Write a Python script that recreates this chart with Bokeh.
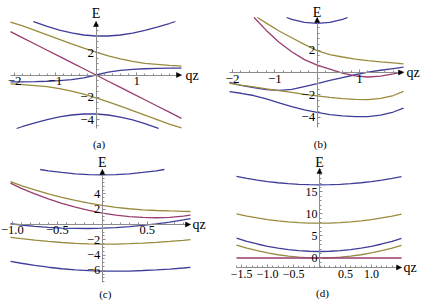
from bokeh.plotting import figure
from bokeh.layouts import gridplot
from bokeh.models import Range1d, FixedTicker, Label, Arrow, NormalHead
from bokeh.embed import file_html
from bokeh.resources import INLINE

# ---------------- data ----------------
# panel (a)  -- each curve: qz values and E values (curves end where they leave the plot)
qz_a = [-2.1, -1.8, -1.5, -1.2, -0.9, -0.6, -0.3, 0.0, 0.3, 0.6, 0.9, 1.2, 1.5, 1.8, 2.1]
olive_top_a = [4.75, 4.40, 4.00, 3.60, 3.20, 2.80, 2.42, 2.05, 1.72, 1.45, 1.22, 1.05, 0.96, 0.87, 0.80]
blue_mid_a = [-0.62, -0.61, -0.59, -0.56, -0.51, -0.42, -0.25, 0.0, 0.25, 0.42, 0.51, 0.56, 0.59, 0.61, 0.62]
magenta_a = [3.89, 3.33, 2.78, 2.22, 1.67, 1.11, 0.56, 0.0, -0.56, -1.11, -1.67, -2.22, -2.78, -3.33, -3.89]
olive_bot_a = [-0.80, -0.87, -0.96, -1.05, -1.22, -1.45, -1.72, -2.05, -2.42, -2.80, -3.20, -3.60, -4.00, -4.40, -4.75]
qz_top_a = [-1.54, -1.5, -1.2, -0.9, -0.6, -0.3, 0.0, 0.3, 0.6, 0.9, 1.2, 1.5, 1.8, 1.95]
blue_top_a = [4.8, 4.74, 4.36, 4.03, 3.77, 3.59, 3.50, 3.50, 3.59, 3.76, 4.00, 4.29, 4.62, 4.8]
qz_bot_a = [-1.95, -1.8, -1.5, -1.2, -0.9, -0.6, -0.3, 0.0, 0.3, 0.6, 0.9, 1.2, 1.5, 1.54]
blue_bot_a = [-4.8, -4.62, -4.29, -4.00, -3.76, -3.59, -3.50, -3.50, -3.59, -3.77, -4.03, -4.36, -4.74, -4.8]

# panel (b)
qz_b = [-2.07, -1.8, -1.5, -1.2, -0.9, -0.6, -0.3, 0.0, 0.3, 0.6, 0.9, 1.2, 1.5, 1.8, 2.04]
blue_mid_b = [-0.88, -1.15, -1.35, -1.52, -1.6, -1.5, -1.25, -1.0, -0.7, -0.45, -0.2, 0.03, 0.2, 0.35, 0.47]
olive_bot_b = [-0.97, -1.12, -1.28, -1.45, -1.62, -1.78, -1.94, -2.09, -2.22, -2.33, -2.4, -2.42, -2.3, -2.05, -1.68]
blue_bot_b = [-1.70, -1.85, -2.05, -2.35, -2.7, -3.05, -3.33, -3.56, -3.75, -3.87, -3.94, -3.94, -3.8, -3.52, -3.18]
qz_top_b = [-0.72, -0.6, -0.3, 0.0, 0.3, 0.6, 0.72]
blue_top_b = [4.9, 4.73, 4.47, 4.38, 4.47, 4.73, 4.9]
qz_olive_b = [-1.41, -1.2, -0.9, -0.6, -0.3, 0.0, 0.3, 0.6, 0.9, 1.2, 1.5, 1.8, 2.04]
olive_top_b = [4.9, 4.4, 3.7, 3.1, 2.5, 1.95, 1.6, 1.38, 1.2, 1.06, 0.95, 0.85, 0.77]
qz_mag_b = [-1.49, -1.2, -0.9, -0.6, -0.3, 0.0, 0.3, 0.6, 0.9, 1.2, 1.5, 1.8, 2.04]
magenta_b = [4.9, 3.75, 2.7, 1.85, 1.15, 0.65, 0.3, -0.05, -0.3, -0.4, -0.32, -0.12, 0.06]

# panel (c)
qz_c = [-1.02, -0.9, -0.75, -0.6, -0.45, -0.3, -0.15, 0.0, 0.15, 0.3, 0.45, 0.6, 0.75, 0.9, 0.98]
olive_top_c = [5.62, 5.08, 4.52, 4.01, 3.55, 3.15, 2.80, 2.50, 2.25, 2.06, 1.92, 1.83, 1.77, 1.72, 1.70]
magenta_c = [5.42, 4.72, 4.00, 3.34, 2.77, 2.27, 1.85, 1.50, 1.23, 1.04, 0.92, 0.88, 0.93, 1.10, 1.22]
blue_mid_c = [0.12, -0.07, -0.25, -0.38, -0.47, -0.52, -0.53, -0.49, -0.41, -0.29, -0.13, 0.07, 0.32, 0.60, 0.77]
olive_bot_c = [-1.68, -1.85, -2.05, -2.22, -2.36, -2.47, -2.54, -2.57, -2.57, -2.52, -2.45, -2.35, -2.22, -2.07, -1.98]
blue_bot_c = [-4.84, -5.08, -5.35, -5.60, -5.80, -5.95, -6.05, -6.10, -6.12, -6.10, -6.03, -5.95, -5.84, -5.70, -5.62]
qz_top_c = [-0.69, -0.6, -0.45, -0.3, -0.15, 0.0, 0.15, 0.3, 0.45, 0.6, 0.69]
blue_top_c = [7.2, 7.03, 6.81, 6.64, 6.53, 6.50, 6.53, 6.64, 6.81, 7.03, 7.2]

# panel (d)
qz_d = [-1.6, -1.4, -1.2, -1.0, -0.8, -0.6, -0.4, -0.2, 0.0, 0.2, 0.4, 0.6, 0.8, 1.0, 1.2, 1.4, 1.58]
blue_top_d = [18.49, 18.05, 17.67, 17.34, 17.07, 16.87, 16.72, 16.63, 16.6, 16.63, 16.72, 16.87, 17.07, 17.34, 17.67, 18.05, 18.45]
olive_top_d = [10.0, 9.51, 9.08, 8.72, 8.42, 8.2, 8.03, 7.93, 7.9, 7.93, 8.03, 8.2, 8.42, 8.72, 9.08, 9.51, 9.95]
blue_mid_d = [4.5, 3.79, 3.18, 2.66, 2.24, 1.9, 1.67, 1.53, 1.48, 1.53, 1.67, 1.9, 2.24, 2.66, 3.18, 3.79, 4.43]
olive_bot_d = [2.95, 2.25, 1.66, 1.15, 0.74, 0.41, 0.18, 0.05, 0.0, 0.05, 0.18, 0.41, 0.74, 1.15, 1.66, 2.25, 2.88]
magenta_d = [0.0, 0.0, 0.0, 0.0, 0.0, 0.0, 0.0, 0.0, 0.0, 0.0, 0.0, 0.0, 0.0, 0.0, 0.0, 0.0, 0.0]

# tick labels
xt_a = [-2, -1, 1];        yt_a = [-4, -2, 2]
xt_b = [-2, -1, 1];        yt_b = [-4, -2, 2]
xt_c = [-1.0, -0.5, 0.5];  yt_c = [-6, -4, -2, 2, 4]
xt_d = [-1.5, -1.0, -0.5, 0.5, 1.0]; yt_d = [0, 5, 10, 15]

# ---------------- style ----------------
BLUE = "#3f3d99"
MAG = "#993d71"
OLIVE = "#998b3d"
AXC = "#8c8c8c"
FONT = "Liberation Serif"


def lab(v, dec):
    s = ("%.1f" % abs(v)) if dec else ("%d" % abs(v))
    return ("\u2212" + s) if v < 0 else s


def minors(lo, hi, step, majors):
    out = []
    n = int(round((hi - lo) / step))
    for i in range(n + 1):
        t = round(lo + i * step, 6)
        if all(abs(t - m) > 1e-6 for m in majors) and abs(t) > 1e-6:
            out.append(t)
    return out


def panel(w, h, xbox, ybox, xr, yr, xt, yt, xminor, yminor, dec_x,
          x_at, fs, caption, cap_off, e_off, q_off, curves):
    # xbox/ybox: pixel box of the plot region inside the canvas (y measured from top)
    sx = (xbox[1] - xbox[0]) / (xr[1] - xr[0])
    sy = (ybox[1] - ybox[0]) / (yr[1] - yr[0])
    x0 = xr[0] - xbox[0] / sx
    x1 = xr[1] + (w - xbox[1]) / sx
    y1 = yr[1] + ybox[0] / sy
    y0 = yr[0] - (h - ybox[1]) / sy
    p = figure(width=w, height=h, x_range=Range1d(x0, x1), y_range=Range1d(y0, y1),
               output_backend="svg", toolbar_location=None, tools="", title=None,
               min_border_left=0, min_border_right=0, min_border_top=0,
               min_border_bottom=0)
    p.outline_line_color = None
    p.grid.visible = False
    p.background_fill_color = "white"
    p.border_fill_color = "white"

    for qs, ys, col in curves:
        p.line(qs, ys, line_color=col, line_width=1.3)

    p.xaxis.fixed_location = x_at
    p.yaxis.fixed_location = 0
    p.xaxis.bounds = xr
    p.yaxis.bounds = yr
    p.xaxis.ticker = FixedTicker(ticks=xt, minor_ticks=minors(xminor[0], xminor[1], xminor[2], xt))
    p.yaxis.ticker = FixedTicker(ticks=yt, minor_ticks=minors(yminor[0], yminor[1], yminor[2], yt))
    p.xaxis.major_label_overrides = {v: lab(v, dec_x) for v in xt}
    p.yaxis.major_label_overrides = {v: lab(v, False) for v in yt}
    for ax in (p.xaxis, p.yaxis):
        ax.axis_line_color = AXC
        ax.axis_line_width = 1
        ax.major_tick_line_color = AXC
        ax.minor_tick_line_color = AXC
        ax.major_tick_in = 3
        ax.major_tick_out = 0
        ax.minor_tick_in = 2
        ax.minor_tick_out = 0
        ax.major_label_text_font = FONT
        ax.major_label_text_font_size = fs
        ax.major_label_text_color = "black"
        ax.major_label_standoff = 2

    head = dict(size=5, fill_color="black", line_color="black", line_width=0.5)
    dx = 0.01 * (xr[1] - xr[0])
    dy = 0.01 * (yr[1] - yr[0])
    p.add_layout(Arrow(end=NormalHead(**head), x_start=xr[1] - dx, y_start=x_at,
                       x_end=xr[1], y_end=x_at, line_alpha=0))
    p.add_layout(Arrow(end=NormalHead(**head), x_start=0, y_start=yr[1] - dy,
                       x_end=0, y_end=yr[1], line_alpha=0))

    p.add_layout(Label(x=0, y=yr[1], text="E", text_align="center",
                       text_baseline="alphabetic", y_offset=e_off, text_font=FONT,
                       text_font_size="14px", text_color="black"))
    p.add_layout(Label(x=xr[1], y=x_at, text="qz", text_align="left",
                       text_baseline="middle", x_offset=q_off, text_font=FONT,
                       text_font_size="14px", text_color="black"))
    p.add_layout(Label(x=0, y=yr[0], text=caption, text_align="center",
                       text_baseline="middle", x_offset=3, y_offset=-cap_off,
                       text_font=FONT, text_font_size="11px", text_color="black"))
    return p


pa = panel(212, 150, (10, 181), (21, 128), (-2.1, 2.1), (-4.8, 4.8), xt_a, yt_a,
           (-2.0, 2.0, 0.2), (-4.5, 4.5, 0.5), False, 0, "13px", "(a)", 15, 8, 4,
           [(qz_top_a, blue_top_a, BLUE), (qz_a, blue_mid_a, BLUE), (qz_bot_a, blue_bot_a, BLUE),
            (qz_a, olive_top_a, OLIVE), (qz_a, olive_bot_a, OLIVE), (qz_a, magenta_a, MAG)])

pb = panel(212, 150, (17, 191), (17, 127), (-2.07, 2.04), (-4.9, 4.9), xt_b, yt_b,
           (-2.0, 2.0, 0.2), (-4.5, 4.5, 0.5), False, 0, "13px", "(b)", 16, 5, 3,
           [(qz_top_b, blue_top_b, BLUE), (qz_b, blue_mid_b, BLUE), (qz_b, blue_bot_b, BLUE),
            (qz_olive_b, olive_top_b, OLIVE), (qz_b, olive_bot_b, OLIVE), (qz_mag_b, magenta_b, MAG)])

pc = panel(212, 150, (10, 190), (19, 132), (-1.02, 0.98), (-7.6, 7.2), xt_c, yt_c,
           (-1.0, 0.9, 0.1), (-7.5, 7.0, 0.5), True, 0, "12.5px", "(c)", 11, 7, 2,
           [(qz_top_c, blue_top_c, BLUE), (qz_c, blue_mid_c, BLUE), (qz_c, blue_bot_c, BLUE),
            (qz_c, olive_top_c, OLIVE), (qz_c, olive_bot_c, OLIVE), (qz_c, magenta_c, MAG)])

pd = panel(212, 150, (24, 189), (18, 117), (-1.6, 1.58), (-2.15, 20.3), xt_d, yt_d,
           (-1.6, 1.5, 0.1), (-2.0, 20.0, 1.0), True, -2.15, "12px", "(d)", 25, 6, 2,
           [(qz_d, blue_top_d, BLUE), (qz_d, blue_mid_d, BLUE),
            (qz_d, olive_top_d, OLIVE), (qz_d, olive_bot_d, OLIVE), (qz_d, magenta_d, MAG)])

grid = gridplot([[pa, pb], [pc, pd]], toolbar_location=None)

open("out.html", "w").write(file_html(grid, INLINE))
